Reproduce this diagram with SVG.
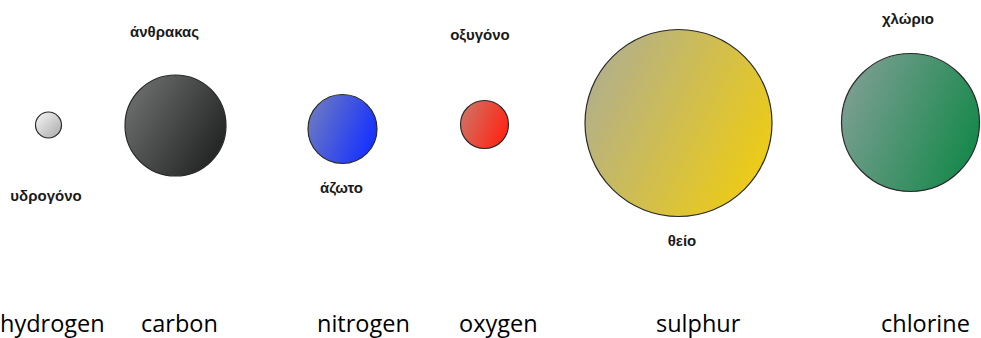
<svg xmlns="http://www.w3.org/2000/svg" width="981" height="338" viewBox="0 0 981 338">
<style>
.atom{stroke:#2a2a2a;stroke-width:1.2}
.gr{font-family:"Liberation Sans",Arial,sans-serif;font-weight:bold;font-size:15px;fill:#1a1a1a;text-anchor:middle}
.en{font-family:"Open Sans","Noto Sans",sans-serif;font-size:23.5px;fill:#000}
</style>
<defs>
<linearGradient id="gH" x1="0" y1="0" x2="1" y2="1"><stop offset="0" stop-color="#f8f8f8"/><stop offset="1" stop-color="#a8a8a8"/></linearGradient>
<linearGradient id="gC" x1="0" y1="0.2" x2="1" y2="0.8"><stop offset="0" stop-color="#6e706f"/><stop offset="1" stop-color="#1e2020"/></linearGradient>
<linearGradient id="gN" x1="0" y1="0.2" x2="1" y2="0.6"><stop offset="0" stop-color="#6e7bc0"/><stop offset="1" stop-color="#1530ff"/></linearGradient>
<linearGradient id="gO" x1="0" y1="0.2" x2="1" y2="0.6"><stop offset="0" stop-color="#cf7466"/><stop offset="1" stop-color="#ff2414"/></linearGradient>
<linearGradient id="gS" x1="0" y1="0.1" x2="1" y2="0.6"><stop offset="0" stop-color="#adad95"/><stop offset="1" stop-color="#eccb18"/></linearGradient>
<linearGradient id="gCl" x1="0" y1="0.2" x2="1" y2="0.6"><stop offset="0" stop-color="#809f95"/><stop offset="1" stop-color="#17894c"/></linearGradient>
</defs>
<g id="hydrogen">
<circle class="atom" cx="48.5" cy="125" r="13" fill="url(#gH)"/>
<text class="gr" x="46" y="201">υδρογόνο</text>
</g>
<g id="carbon">
<circle class="atom" cx="175.5" cy="125.5" r="50.5" fill="url(#gC)"/>
<text class="gr" x="164.5" y="37">άνθρακας</text>
</g>
<g id="nitrogen">
<circle class="atom" cx="342.5" cy="129" r="34.5" fill="url(#gN)"/>
<text class="gr" x="341.5" y="193">άζωτο</text>
</g>
<g id="oxygen">
<circle class="atom" cx="484.5" cy="124.5" r="24" fill="url(#gO)"/>
<text class="gr" x="480" y="40">οξυγόνο</text>
</g>
<g id="sulphur">
<circle class="atom" cx="678.5" cy="123" r="93.5" fill="url(#gS)"/>
<text class="gr" x="682" y="246">θείο</text>
</g>
<g id="chlorine">
<circle class="atom" cx="910.5" cy="122.5" r="69" fill="url(#gCl)"/>
<text class="gr" x="908" y="24">χλώριο</text>
</g>
<g id="connectors"></g>
<g id="english-labels">
<text class="en" x="0" y="331.5">hydrogen</text>
<text class="en" x="141" y="331.5">carbon</text>
<text class="en" x="317" y="331.5">nitrogen</text>
<text class="en" x="459" y="331.5">oxygen</text>
<text class="en" x="656" y="331.5">sulphur</text>
<text class="en" x="881" y="331.5">chlorine</text>
</g>
</svg>
